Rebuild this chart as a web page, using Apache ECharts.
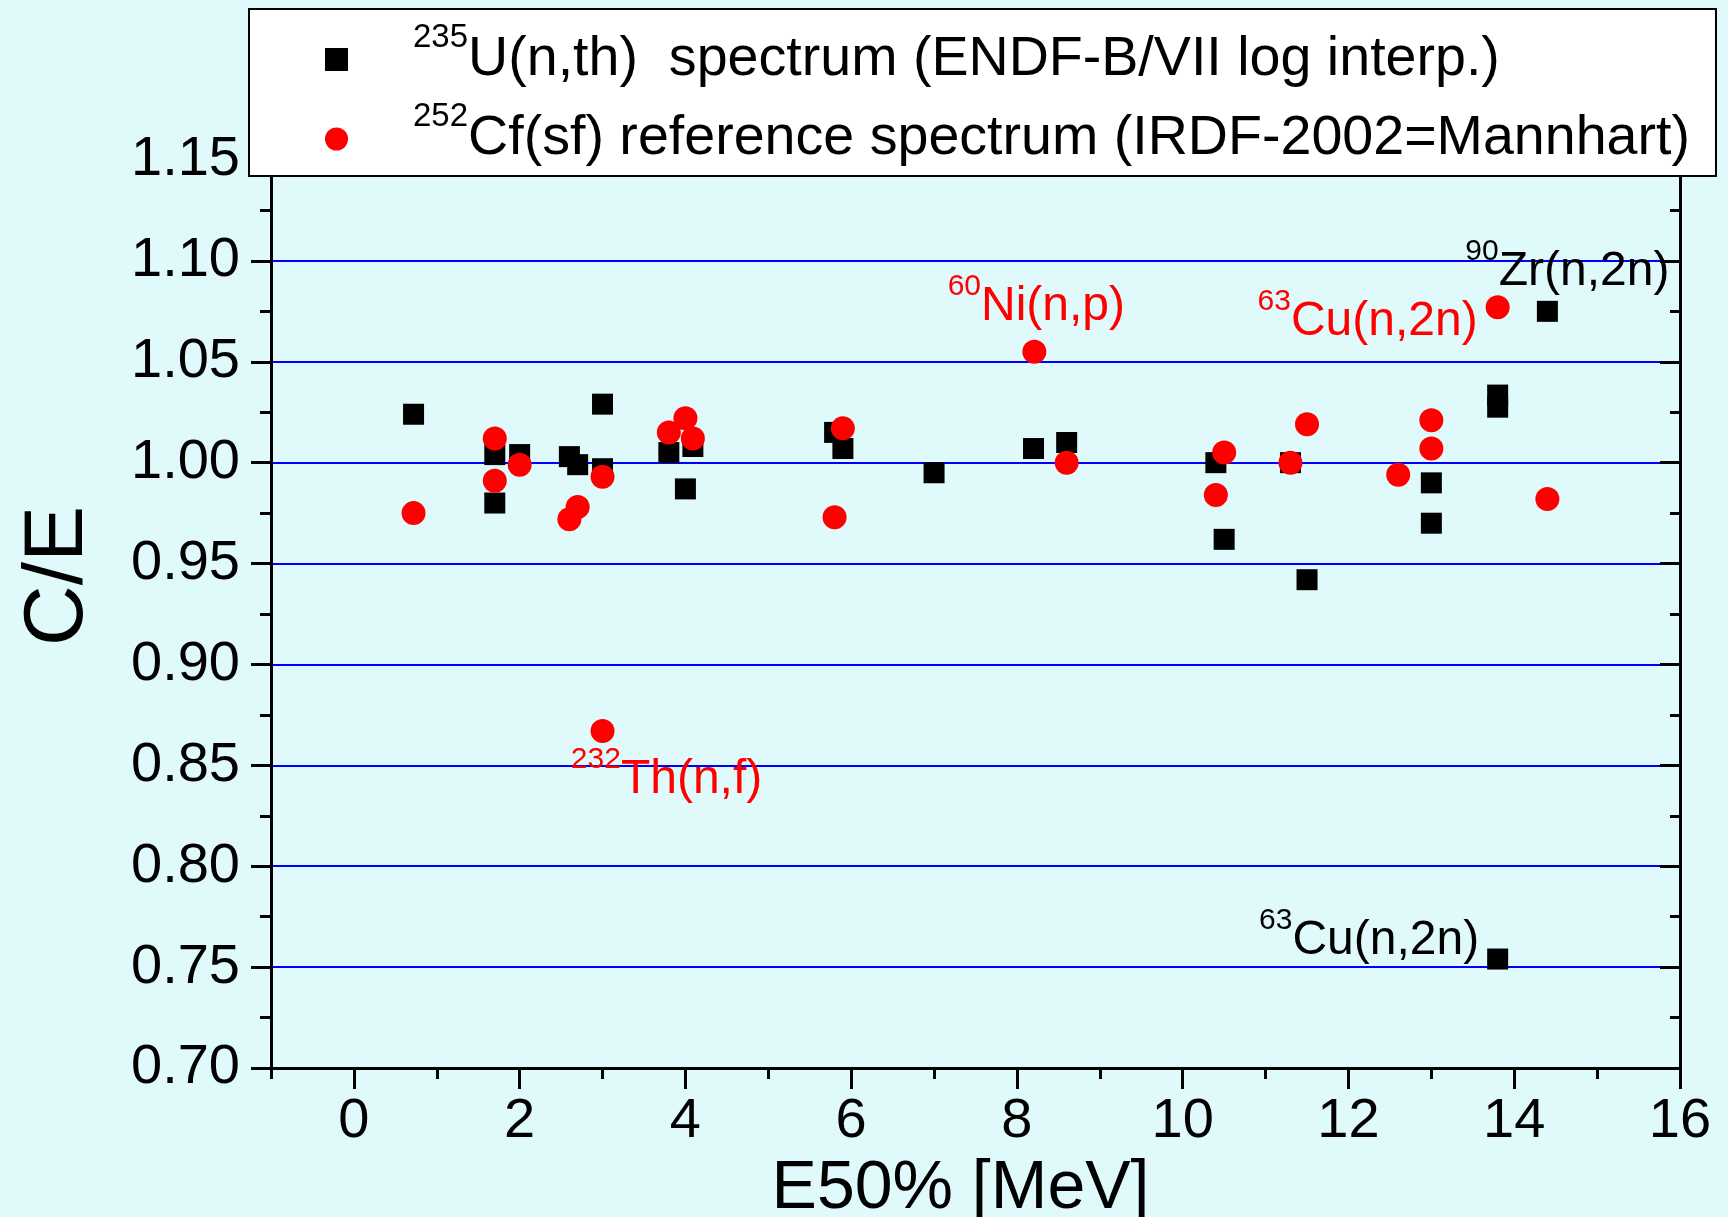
<!DOCTYPE html>
<html>
<head>
<meta charset="utf-8">
<script src="https://cdn.jsdelivr.net/npm/echarts@6/dist/echarts.min.js"></script>
<style>
  html, body { margin: 0; padding: 0; background: #e0fafc; }
  #chart { width: 1728px; height: 1217px; }
</style>
</head>
<body>
<div id="chart"></div>
<script>
// C/E ratios of dosimetry reactions versus their median response energy E50%
const u235Energy = [0.72, 1.70, 1.70, 2.00, 2.60, 2.70, 3.00, 3.00, 3.80, 4.00, 4.09, 5.80, 5.90,
                    7.00, 8.20, 8.60, 10.40, 10.50, 11.30, 11.50, 13.00, 13.00, 13.80, 13.80, 13.80, 14.40];
const u235Ratio  = [1.024, 1.004, 0.980, 1.004, 1.003, 0.999, 1.029, 0.997, 1.005, 0.987, 1.008, 1.015, 1.007,
                    0.995, 1.007, 1.010, 1.000, 0.962, 1.000, 0.942, 0.990, 0.970, 1.0335, 1.0275, 0.754, 1.075];

const cf252Energy = [0.72, 1.70, 1.70, 2.00, 2.60, 2.70, 3.00, 3.00, 3.80, 4.00, 4.09, 5.80,
                     5.90, 8.21, 8.60, 10.40, 10.50, 11.30, 11.50, 12.60, 13.00, 13.00, 13.80, 14.40];
const cf252Ratio  = [0.975, 1.012, 0.991, 0.999, 0.972, 0.978, 0.993, 0.867, 1.015, 1.022, 1.012, 0.973,
                     1.017, 1.055, 1.000, 0.984, 1.005, 1.000, 1.019, 0.994, 1.021, 1.007, 1.077, 0.982];

// reactions named next to individual points: [point index, mass number, reaction]
const u235Notes  = [[25, '90', 'Zr(n,2n)'], [24, '63', 'Cu(n,2n)']];
const cf252Notes = [[22, '63', 'Cu(n,2n)'], [13, '60', 'Ni(n,p)'], [7, '232', 'Th(n,f)']];

const legendMass = ['235', '252'];
const legendText = ['U(n,th)  spectrum (ENDF-B/VII log interp.)',
                    'Cf(sf) reference spectrum (IRDF-2002=Mannhart)'];

const xTickValues = [0, 2, 4, 6, 8, 10, 12, 14, 16];

const FONT = "'Liberation Sans', Arial, sans-serif";
const seriesNames = legendMass.map((m, i) => m + legendText[i]);

// where each reaction label sits relative to its point
const notePlacement = {
  'u235:Zr(n,2n)':  { position: 'top', distance: 5, offset: [20, 11] },
  'u235:Cu(n,2n)':  { position: 'left', distance: 8, offset: [0, -18] },
  'cf252:Cu(n,2n)': { position: 'left', distance: 8, offset: [0, 14] },
  'cf252:Ni(n,p)':  { position: 'top', distance: 5, offset: [2, 7] },
  'cf252:Th(n,f)':  { position: 'bottom', distance: 5, offset: [64, -3] }
};

function buildData(xs, ys, notes, key, color) {
  const data = xs.map((x, i) => ({ value: [x, ys[i]] }));
  notes.forEach(([idx, mass, reaction]) => {
    const place = notePlacement[key + ':' + reaction];
    data[idx].label = Object.assign({
      show: true,
      formatter: '{m|' + mass + '}{r|' + reaction + '}',
      color: color,
      opacity: 1,
      fontFamily: FONT,
      rich: {
        m: { fontSize: 30, color: color, fontFamily: FONT, verticalAlign: 'top', lineHeight: 40 },
        r: { fontSize: 48, color: color, fontFamily: FONT, lineHeight: 70 }
      }
    }, place);
  });
  return data;
}

const chart = echarts.init(document.getElementById('chart'), null, { renderer: 'canvas' });

const axisLineStyle = { color: '#000', width: 3 };
const xRange = { type: 'value', min: -1, max: 16, interval: 1 };
const yRange = { type: 'value', min: 0.70, max: 1.15, interval: 0.05 };

chart.setOption({
  animation: false,
  backgroundColor: '#e0fafc',
  textStyle: { fontFamily: FONT },
  grid: { left: 271, right: 48, top: 160, bottom: 149, containLabel: false, outerBoundsMode: 'none' },
  legend: {
    orient: 'vertical',
    left: 249,
    top: 9,
    padding: [12, 26, 9, 76],
    itemGap: 13,
    itemWidth: 23,
    itemHeight: 23,
    backgroundColor: '#ffffff',
    borderColor: '#000',
    borderWidth: 2,
    selectedMode: false,
    data: [{ name: seriesNames[0], icon: 'rect' }, { name: seriesNames[1], icon: 'circle' }],
    formatter: name => {
      const i = seriesNames.indexOf(name);
      return '{m|' + legendMass[i] + '}{t|' + legendText[i] + '}';
    },
    itemStyle: { opacity: 1 },
    textStyle: {
      fontFamily: FONT, fontSize: 55.6, color: '#000',
      rich: {
        m: { fontSize: 33, fontFamily: FONT, color: '#000', verticalAlign: 'top', lineHeight: 40, padding: [0, 0, 0, 60] },
        t: { fontSize: 55.6, fontFamily: FONT, color: '#000', lineHeight: 77 }
      }
    }
  },
  xAxis: [
    Object.assign({}, xRange, {
      position: 'bottom',
      axisLine: { show: true, onZero: false, lineStyle: axisLineStyle },
      axisTick: { show: true, length: 11, lineStyle: axisLineStyle },
      axisLabel: { show: false },
      splitLine: { show: false }
    }),
    Object.assign({}, xRange, {
      position: 'bottom',
      axisLine: { show: false, onZero: false },
      axisTick: { show: true, customValues: xTickValues, length: 21, lineStyle: axisLineStyle },
      axisLabel: {
        show: true, customValues: xTickValues, margin: 26,
        fontFamily: FONT, fontSize: 56, color: '#000'
      },
      splitLine: { show: false },
      name: 'E50% [MeV]',
      nameLocation: 'middle',
      nameGap: 71,
      nameTextStyle: { fontFamily: FONT, fontSize: 68, color: '#000', padding: [0, 30, 0, 0] }
    }),
    Object.assign({}, xRange, {
      position: 'top',
      axisLine: { show: true, onZero: false, lineStyle: axisLineStyle },
      axisTick: { show: true, inside: true, length: 11, lineStyle: axisLineStyle },
      axisLabel: { show: false },
      splitLine: { show: false }
    })
  ],
  yAxis: [
    Object.assign({}, yRange, {
      position: 'left',
      axisLine: { show: true, onZero: false, lineStyle: axisLineStyle },
      axisTick: { show: true, length: 20, lineStyle: axisLineStyle },
      minorTick: { show: true, splitNumber: 2, length: 11, lineStyle: axisLineStyle },
      axisLabel: {
        show: true, margin: 31, fontFamily: FONT, fontSize: 56, color: '#000',
        formatter: v => v.toFixed(2)
      },
      splitLine: { show: true, lineStyle: { color: '#0000ff', width: 2 } },
      minorSplitLine: { show: false },
      name: 'C/E',
      nameLocation: 'middle',
      nameRotate: 90,
      nameGap: 170,
      nameTextStyle: { fontFamily: FONT, fontSize: 84, color: '#000', padding: [0, 0, 0, 76] }
    }),
    Object.assign({}, yRange, {
      position: 'right',
      axisLine: { show: true, onZero: false, lineStyle: axisLineStyle },
      axisTick: { show: true, inside: true, length: 20, lineStyle: axisLineStyle },
      minorTick: { show: true, splitNumber: 2, length: 10, lineStyle: axisLineStyle },
      axisLabel: { show: false },
      splitLine: { show: false }
    })
  ],
  series: [
    {
      type: 'scatter',
      name: seriesNames[0],
      xAxisIndex: 0,
      yAxisIndex: 0,
      symbol: 'rect',
      symbolSize: 21,
      itemStyle: { color: '#000000', opacity: 1 },
      emphasis: { disabled: true },
      z: 3,
      data: buildData(u235Energy, u235Ratio, u235Notes, 'u235', '#000000')
    },
    {
      type: 'scatter',
      name: seriesNames[1],
      xAxisIndex: 0,
      yAxisIndex: 0,
      symbol: 'circle',
      symbolSize: 24,
      itemStyle: { color: '#ff0000', opacity: 1 },
      emphasis: { disabled: true },
      z: 4,
      data: buildData(cf252Energy, cf252Ratio, cf252Notes, 'cf252', '#ff0000')
    }
  ]
});
</script>
</body>
</html>
